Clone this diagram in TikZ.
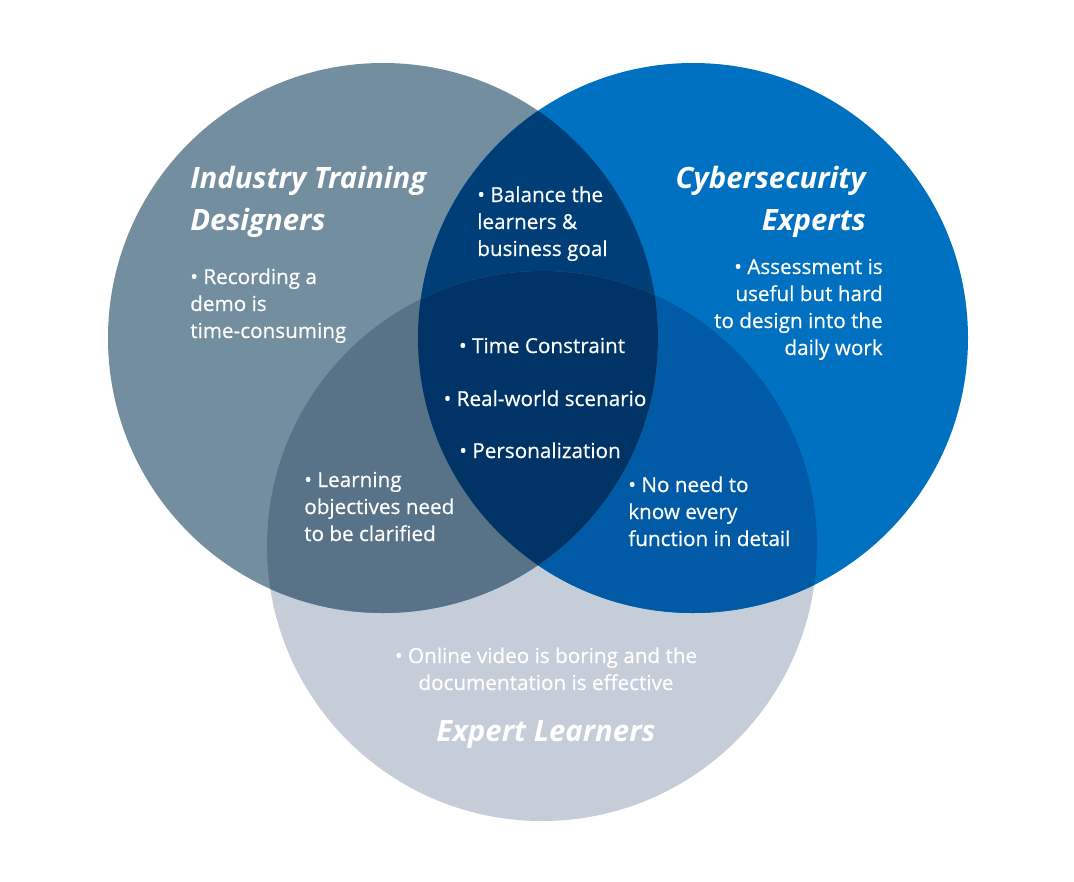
\documentclass[tikz,border=0pt]{standalone}
\usepackage{fontspec}
\setmainfont{Open Sans}
\newfontfamily\notefont[FakeBold=0.5]{Open Sans}
\usepackage{tikz}
\definecolor{slate}{HTML}{728E9F}
\definecolor{cyblue}{HTML}{0070C0}
\definecolor{mist}{HTML}{C5CDD9}
\definecolor{slateblue}{HTML}{003E78}
\definecolor{slatemist}{HTML}{587287}
\definecolor{bluemist}{HTML}{005AA5}
\definecolor{core}{HTML}{003366}
\tikzset{
  grouptitle/.style={
    font=\fontsize{20.9}{29.8}\selectfont\bfseries\itshape,
    text=white, inner sep=0pt, align=#1
  },
  grouptitle/.default=left,
  notetext/.style={
    font=\notefont\fontsize{14.7}{19.2}\selectfont,
    text=white, inner sep=0pt, align=#1
  },
  notetext/.default=left,
}
\begin{document}
\begin{tikzpicture}[x=0.025cm, y=-0.025cm]
    \useasboundingbox (0,0) rectangle (1074,882);
    \fill[white] (0,0) rectangle (1074,882);

    % Circle centres
    \coordinate (designers) at (383,338);
    \coordinate (experts) at (693,338);
    \coordinate (learners) at (542,546);

    % Plain circles
    \foreach \c/\col in {learners/mist, designers/slate, experts/cyblue}
      \fill[\col] (\c) circle[radius=275];

    % Overlaps
    \begin{scope}
      \clip (experts) circle[radius=275];
      \fill[bluemist] (learners) circle[radius=275];
    \end{scope}
    \begin{scope}
      \clip (designers) circle[radius=275];
      \fill[slateblue] (experts) circle[radius=275];
      \fill[slatemist] (learners) circle[radius=275];
      \clip (experts) circle[radius=275];
      \fill[core] (learners) circle[radius=275];
    \end{scope}

    % Titles (anchored at the baseline of their last line)
    \node[grouptitle, anchor=base west] (designtitle) at (190,230) {Industry Training\\Designers};
    \node[grouptitle=right, anchor=base east] (experttitle) at (866,230) {Cybersecurity\\Experts};
    \node[grouptitle=center, anchor=base] (learnertitle) at (546,741) {Expert Learners};

    % Notes
    \node[notetext, anchor=base west] (designnote) at (190,338) {• Recording a\\demo is\\time-consuming};
    \node[notetext=right, anchor=base east] (expertnote) at (883,355) {• Assessment is\\useful but hard\\to design into the\\daily work};
    \node[notetext, anchor=base west] (balancenote) at (477,256) {• Balance the\\learners \&\\business goal};
    \node[notetext, anchor=base] (timenote) at (542,353) {• Time Constraint};
    \node[notetext, anchor=base] (realnote) at (545,406) {• Real-world scenario};
    \node[notetext, anchor=base] (personalnote) at (540,458) {• Personalization};
    \node[notetext, anchor=base west] (objectivenote) at (304,541) {• Learning\\objectives need\\to be clarified};
    \node[notetext, anchor=base west] (functionnote) at (628,546) {• No need to\\know every\\function in detail};
    \node[notetext=center, anchor=base] (videonote) at (546,690) {• Online video is boring and the\\documentation is effective};
\end{tikzpicture}
\end{document}
